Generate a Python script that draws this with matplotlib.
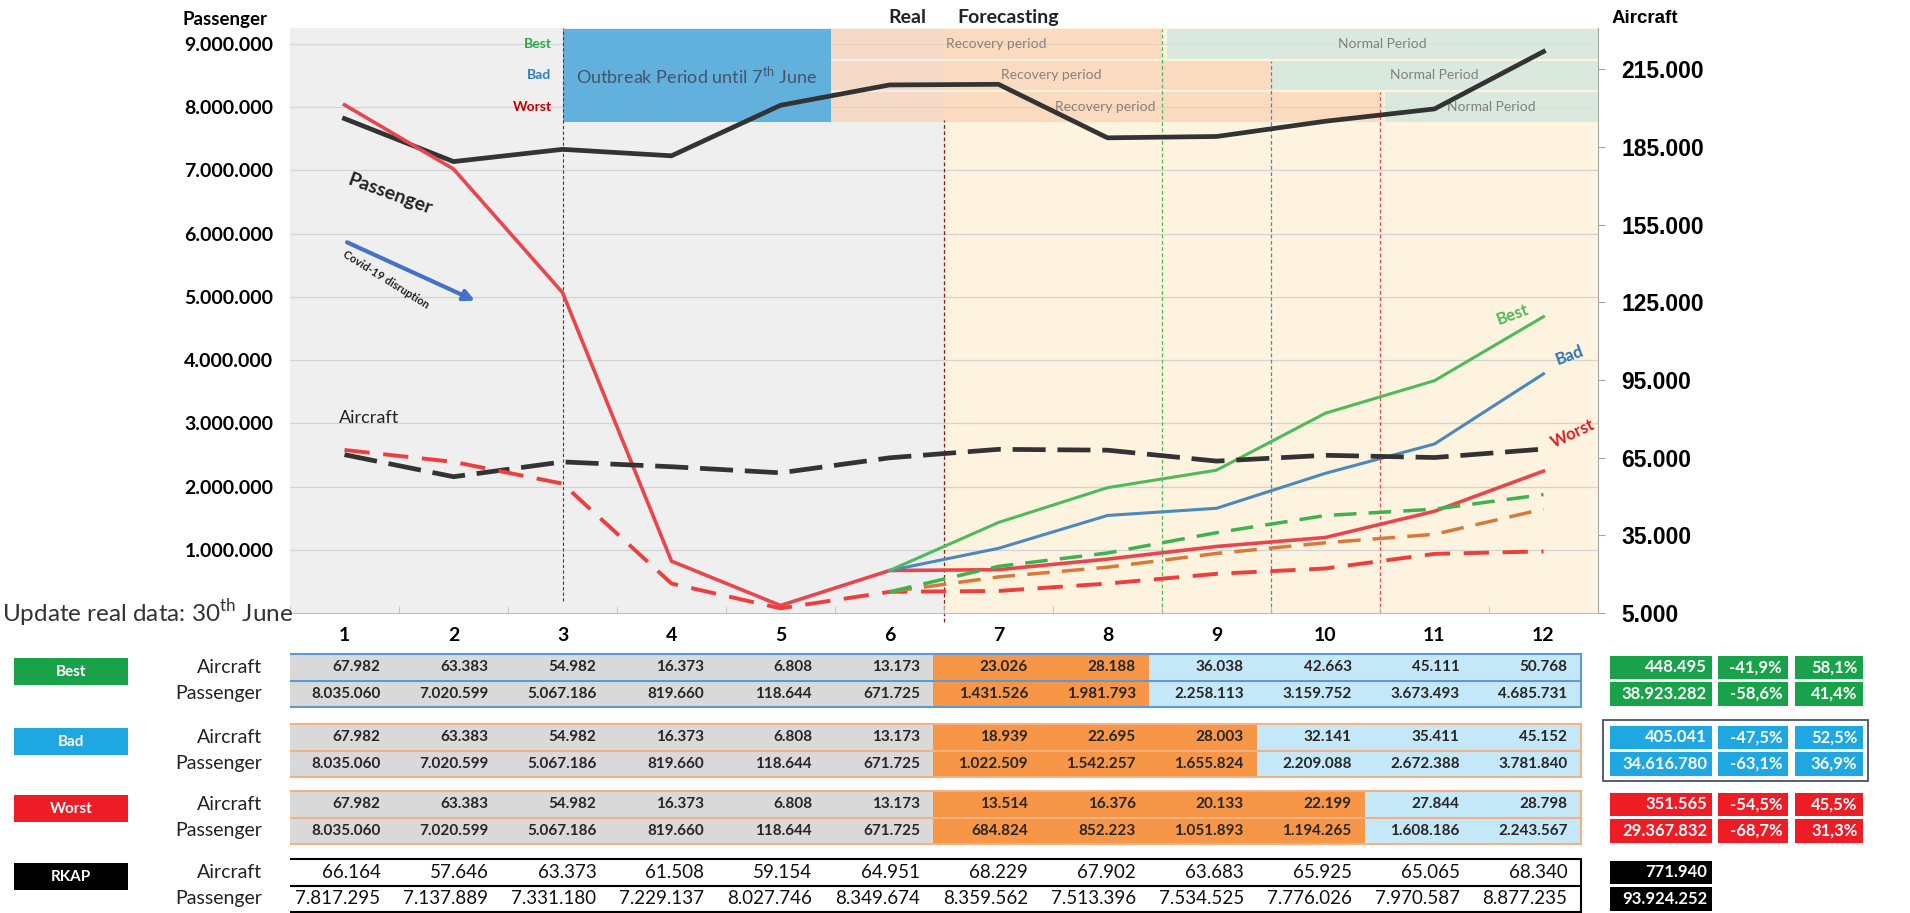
import numpy as np
import matplotlib.pyplot as plt
from matplotlib.patches import Rectangle

plt.rcParams['font.family'] = ['Lato', 'DejaVu Sans']
plt.rcParams['mathtext.fontset'] = 'custom'
plt.rcParams['mathtext.rm'] = 'Lato'
NARROW = ['Liberation Sans Narrow', 'Lato', 'DejaVu Sans']
ARIAL = ['Liberation Sans', 'DejaVu Sans']

# data
months = list(range(1, 13))
rkap_pax = [7817295, 7137889, 7331180, 7229137, 8027746, 8349674,
            8359562, 7513396, 7534525, 7776026, 7970587, 8877235]
rkap_ac = [66164, 57646, 63373, 61508, 59154, 64951,
           68229, 67902, 63683, 65925, 65065, 68340]
real_pax = [8035060, 7020599, 5067186, 819660, 118644, 671725]
real_ac = [67982, 63383, 54982, 16373, 6808, 13173]

best_pax = [1431526, 1981793, 2258113, 3159752, 3673493, 4685731]
best_ac = [23026, 28188, 36038, 42663, 45111, 50768]
bad_pax = [1022509, 1542257, 1655824, 2209088, 2672388, 3781840]
bad_ac = [18939, 22695, 28003, 32141, 35411, 45152]
worst_pax = [684824, 852223, 1051893, 1194265, 1608186, 2243567]
worst_ac = [13514, 16376, 20133, 22199, 27844, 28798]

scenarios = ['Best', 'Bad', 'Worst']
sc_pax = [best_pax, bad_pax, worst_pax]
sc_ac = [best_ac, bad_ac, worst_ac]
recovery_end = [8.5, 9.5, 10.5]
normal_start = [8.55, 9.5, 10.55]
outbreak = (3, 5.46)

# yearly totals vs RKAP (as printed)
total_ac = [448495, 405041, 351565]
total_pax = [38923282, 34616780, 29367832]
ac_gap = [-41.9, -47.5, -54.5]
ac_share = [58.1, 52.5, 45.5]
pax_gap = [-58.6, -63.1, -68.7]
pax_share = [41.4, 36.9, 31.3]
rkap_total_ac = 771940
rkap_total_pax = 93924252

left_ticks = [1e6 * i for i in range(1, 10)]
right_ticks = list(range(5000, 215001, 30000))

# colours
c_best, c_bad, c_worst = '#4dba5c', '#4b88bd', '#e8464f'
c_best_d, c_bad_d, c_worst_d = '#3fb24f', '#d67a3c', '#ee3d3d'
lbl_col = ['#19a24a', '#1ea7e1', '#ee1c25']
txt_col = ['#2aa84a', '#2e7fc0', '#c00000']
tab_edge = ['#5b9bd5', '#f4b183', '#f4b183']
c_real, c_rec, c_norm = '#d9d9d9', '#f79646', '#c5e8f8'


def dots(v):
    return f'{v:,}'.replace(',', '.')


def pct(v):
    return f'{v:.1f}%'.replace('.', ',')


fig = plt.figure(figsize=(19.1, 9.13), dpi=100)
L, W = 290 / 1910, 1308 / 1910
ax = fig.add_axes([L, 1 - 613 / 913, W, 585 / 913])
ax.set_xlim(0.5, 12.5)
ax.set_ylim(0, 9.25e6)
ax2 = ax.twinx()
ax2.set_ylim(5000, 231000)

# backgrounds + grid
ax.axvspan(0.5, 6.5, color='#efefef', zorder=0)
ax.axvspan(6.5, 12.5, color='#fdf3de', zorder=0)
for v in left_ticks:
    ax.axhline(v, color='#d4d4d4', lw=0.9, zorder=0.5)

# period bands
row_c = [9.0e6, 8.5e6, 8.0e6]
half = 0.235e6
ax.add_patch(Rectangle((outbreak[0], row_c[2] - half), outbreak[1] - outbreak[0],
                       row_c[0] - row_c[2] + 2 * half, fc='#62b1dd', ec='none', zorder=1))
ax.text(sum(outbreak) / 2, row_c[1], 'Outbreak Period until 7$^{\\mathrm{th}}$ June',
        ha='center', va='center', fontsize=13, color='#44546a', zorder=3)
for i, name in enumerate(scenarios):
    c = row_c[i]
    ax.add_patch(Rectangle((outbreak[1], c - half), recovery_end[i] - outbreak[1], 2 * half,
                           fc='#f8cbad', alpha=0.6, ec='none', zorder=1))
    ax.add_patch(Rectangle((normal_start[i], c - half), 12.5 - normal_start[i], 2 * half,
                           fc='#d3e8df', alpha=0.85, ec='none', zorder=1))
    ax.text((outbreak[1] + recovery_end[i]) / 2, c, 'Recovery period', ha='center',
            va='center', fontsize=10, color='#8c7f78', zorder=3)
    ax.text((normal_start[i] + 12.5) / 2, c, 'Normal Period', ha='center',
            va='center', fontsize=10, color='#7f7f7f', zorder=3)
    ax.text(2.9, c, name, ha='right', va='center', fontsize=10, fontweight='bold',
            color=txt_col[i], zorder=3)
    ax.vlines(recovery_end[i], 0, c + half, colors=[c_best, c_bad, c_worst][i],
              linestyles=(0, (3, 2)), lw=0.9, zorder=1.5)

ax.axvline(3, ymin=0.02, color='#404040', ls=(0, (3, 2)), lw=0.8, zorder=1.5)
ax.vlines(6.5, -0.15e6, 7.8e6, colors='#8b1a1a', linestyles=(0, (3, 2)), lw=0.9,
          zorder=1.5, clip_on=False)

# passenger lines (left)
ax.plot(months, rkap_pax, color='#333333', lw=3.4, zorder=4)
ax.plot(months, real_pax + worst_pax, color=c_worst, lw=2.6, zorder=4)
ax.plot(months[5:], real_pax[-1:] + bad_pax, color=c_bad, lw=2.2, zorder=4)
ax.plot(months[5:], real_pax[-1:] + best_pax, color=c_best, lw=2.2, zorder=4)

# aircraft lines (right)
ax2.plot(months, rkap_ac, color='#333333', lw=3.4, dashes=(7, 2.5))
ax2.plot(months, real_ac + worst_ac, color=c_worst_d, lw=2.8, dashes=(6.5, 3.5))
ax2.plot(months[5:], real_ac[-1:] + bad_ac, color=c_bad_d, lw=2.5, dashes=(6.5, 3.5))
ax2.plot(months[5:], real_ac[-1:] + best_ac, color=c_best_d, lw=2.5, dashes=(6.5, 3.5))

# annotations
ax.text(1.42, 6.62e6, 'Passenger', rotation=-20, ha='center', va='center',
        fontsize=14, fontweight='bold', color='#222222')
ax.text(0.95, 3.08e6, 'Aircraft', ha='left', va='center', fontsize=13, color='#222222')
ax.annotate('', xy=(2.22, 4.92e6), xytext=(1.0, 5.88e6),
            arrowprops=dict(arrowstyle='-|>', color='#4472c4', lw=3, mutation_scale=16))
ax.text(1.38, 5.27e6, 'Covid-19 disruption', rotation=-32, ha='center', va='center',
        fontsize=8, fontweight='bold', color='#222222')
ax.text(11.72, 4.72e6, 'Best', rotation=20, ha='center', va='center', fontsize=12,
        fontweight='bold', color=c_best)
ax.text(12.24, 4.07e6, 'Bad', rotation=20, ha='center', va='center', fontsize=12,
        fontweight='bold', color='#2e75b6')
ax.text(12.27, 2.83e6, 'Worst', rotation=25, ha='center', va='center', fontsize=12,
        fontweight='bold', color='#e01b24')

ax.text(-0.1, 9.38e6, 'Passenger', ha='center', va='center', fontsize=13.5,
        fontweight='bold', clip_on=False)
ax2.text(12.93, 234500, 'Aircraft', ha='center', va='center', fontsize=13.5,
         fontweight='bold', family=ARIAL, clip_on=False)
ax.text(6.16, 9.42e6, 'Real', ha='center', va='center', fontsize=14,
        fontweight='bold', color='#222222', clip_on=False)
ax.text(7.09, 9.42e6, 'Forecasting', ha='center', va='center', fontsize=14,
        fontweight='bold', color='#222222', clip_on=False)

# axes styling
ax.set_yticks(left_ticks, labels=[dots(int(v)) for v in left_ticks])
ax.tick_params(axis='y', length=0, pad=12, labelsize=14)
for t in ax.get_yticklabels():
    t.set_fontweight('bold')
ax.set_xticks(months, labels=[str(m) for m in months])
ax.tick_params(axis='x', length=0, pad=10, labelsize=14)
for t in ax.get_xticklabels():
    t.set_fontweight('bold')
ax.set_xticks(np.arange(0.5, 13, 1), minor=True)
ax.tick_params(axis='x', which='minor', direction='in', length=5, color='#bfbfbf')
for s in ['left', 'top', 'right']:
    ax.spines[s].set_visible(False)
ax.spines['bottom'].set_color('#bfbfbf')

ax2.set_yticks(right_ticks, labels=[dots(v) for v in right_ticks])
ax2.tick_params(axis='y', length=5, color='#a6a6a6', pad=12, labelsize=16.5)
for t in ax2.get_yticklabels():
    t.set_fontweight('bold')
    t.set_family(ARIAL)
for s in ['left', 'top', 'bottom']:
    ax2.spines[s].set_visible(False)
ax2.spines['right'].set_color('#a6a6a6')

fig.text(0.001, 1 - 613 / 913, 'Update real data: 30$^{\\mathrm{th}}$ June', va='center',
         ha='left', fontsize=17.5, family=NARROW, color='#333333')

# tables
tax = fig.add_axes([L, 0, W, 300 / 913])
tax.set_xlim(0.5, 12.5)
tax.set_ylim(300, 0)
tax.axis('off')

tab_x0, col_w = 0.46, 0.99
row_h = 26.5
block_top = [41, 111, 178, 246]
box_cols = [(12.61, 13.55), (13.6, 14.24), (14.31, 14.93)]


def row_label(top, name, color):
    tax.add_patch(Rectangle((-2.03, top + 4), 1.04, 27, fc=color, ec='none', clip_on=False))
    tax.text(-1.51, top + 17.5, name, ha='center', va='center', color='white',
             fontsize=11, fontweight='bold', family=NARROW, clip_on=False)
    tax.text(0.24, top + row_h / 2, 'Aircraft', ha='right', va='center', fontsize=14,
             family=NARROW, color='#222222', clip_on=False)
    tax.text(0.24, top + 1.5 * row_h, 'Passenger', ha='right', va='center', fontsize=14,
             family=NARROW, color='#222222', clip_on=False)


for i, name in enumerate(scenarios):
    top = block_top[i]
    ac = real_ac + sc_ac[i]
    pax = real_pax + sc_pax[i]
    for j, m in enumerate(months):
        if m <= 6:
            fc = c_real
        elif m < recovery_end[i]:
            fc = c_rec
        else:
            fc = c_norm
        x0 = tab_x0 + j * col_w
        for r, vals in enumerate([ac, pax]):
            tax.add_patch(Rectangle((x0, top + r * row_h), col_w, row_h, fc=fc, ec='none'))
            tax.text(x0 + col_w - 0.12, top + (r + 0.5) * row_h, dots(vals[j]), ha='right',
                     va='center', fontsize=11, fontweight='bold', family=NARROW,
                     color='#262626')
    tax.add_patch(Rectangle((tab_x0, top), 12 * col_w, 2 * row_h, fc='none',
                            ec=tab_edge[i], lw=1.5))
    tax.plot([tab_x0, tab_x0 + 12 * col_w], [top + row_h] * 2, color=tab_edge[i], lw=1.5)
    row_label(top, name, lbl_col[i])

    # summary boxes
    texts = [[dots(total_ac[i]), pct(ac_gap[i]), pct(ac_share[i])],
             [dots(total_pax[i]), pct(pax_gap[i]), pct(pax_share[i])]]
    for r in range(2):
        for k, (a, b) in enumerate(box_cols):
            tax.add_patch(Rectangle((a, top + r * row_h + 1.5), b - a, row_h - 3,
                                    fc=lbl_col[i], ec='none', clip_on=False))
            tax.text(b - 0.05, top + (r + 0.5) * row_h, texts[r][k], ha='right',
                     va='center', color='white', fontsize=12, fontweight='bold',
                     family=NARROW, clip_on=False)
    if name == 'Bad':
        tax.add_patch(Rectangle((12.55, top - 4), 2.43, 2 * row_h + 8, fc='none',
                                ec='#44546a', lw=1.3, clip_on=False))

# RKAP block
top = block_top[3]
for r, vals in enumerate([rkap_ac, rkap_pax]):
    for j in range(12):
        x0 = tab_x0 + j * col_w
        tax.text(x0 + col_w - 0.12, top + (r + 0.5) * row_h, dots(vals[j]), ha='right',
                 va='center', fontsize=13.5, family=NARROW, color='#111111')
tax.add_patch(Rectangle((tab_x0, top), 12 * col_w, 2 * row_h, fc='none', ec='black', lw=1.5))
tax.plot([tab_x0, tab_x0 + 12 * col_w], [top + row_h] * 2, color='black', lw=1.5)
row_label(top, 'RKAP', 'black')
for r, v in enumerate([rkap_total_ac, rkap_total_pax]):
    a, b = box_cols[0]
    tax.add_patch(Rectangle((a, top + r * row_h + 1.5), b - a, row_h - 3, fc='black',
                            ec='none', clip_on=False))
    tax.text(b - 0.05, top + (r + 0.5) * row_h, dots(v), ha='right', va='center',
             color='white', fontsize=12, fontweight='bold', family=NARROW, clip_on=False)

fig.savefig('out.png', dpi=100)
